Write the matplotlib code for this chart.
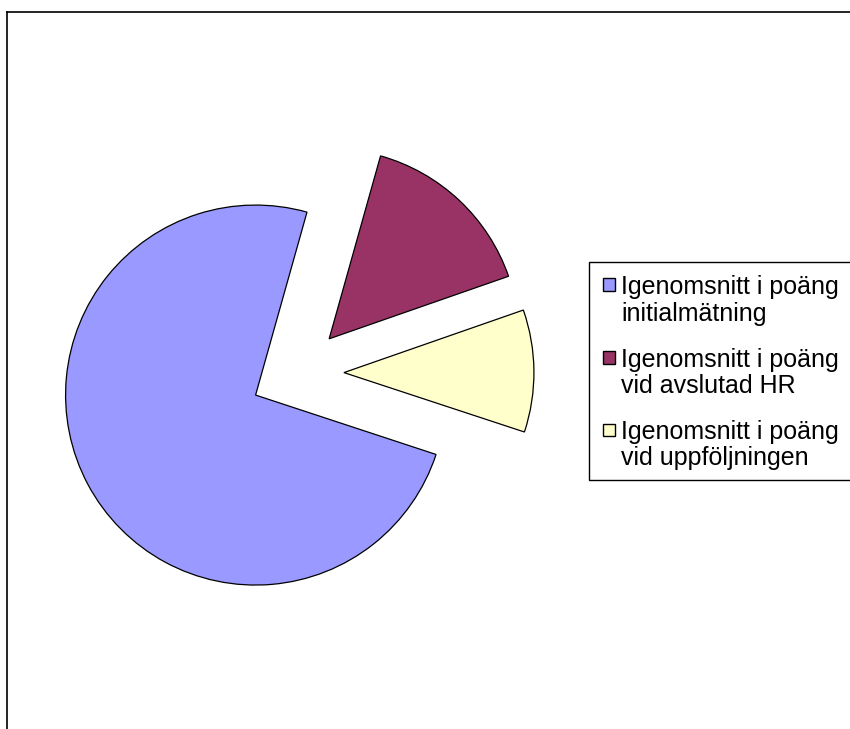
import matplotlib
matplotlib.use("Agg")
import matplotlib.pyplot as plt
from matplotlib.patches import Rectangle
from matplotlib.lines import Line2D

labels = [("Igenomsnitt i poäng", "initialmätning"),
          ("Igenomsnitt i poäng", "vid avslutad HR"),
          ("Igenomsnitt i poäng", "vid uppföljningen")]
values = [74.3, 15.3, 10.4]
colors = ["#9999FF", "#993366", "#FFFFCC"]

W, H = 850, 729
fig = plt.figure(figsize=(W / 100, H / 100), dpi=100)
plt.rcParams['font.family'] = ['Liberation Sans', 'DejaVu Sans']

def fx(x):
    return x / W

def fy(y):
    return 1 - y / H

# outer chart frame (left and top edges visible)
fig.add_artist(Line2D([fx(6.5), fx(6.5)], [fy(740), fy(12)], color="black", lw=1.2))
fig.add_artist(Line2D([fx(6.5), fx(860)], [fy(12), fy(12)], color="black", lw=1.2))

# pie: radius 1 maps to 190 px, centre at pixel (297, 373)
ax = fig.add_axes([0, 0, 1, 1])
r_px, cx, cy = 190, 297, 373
blue_span = 360 * values[0] / sum(values)
ax.pie(values, colors=colors, startangle=74.3 + blue_span, counterclock=False,
       explode=[0.247] * 3, radius=1,
       wedgeprops=dict(edgecolor="black", linewidth=0.9))
ax.set_xlim(-cx / r_px, (W - cx) / r_px)
ax.set_ylim(-(H - cy) / r_px, cy / r_px)
ax.axis("off")

# legend box drawn by hand
fig.add_artist(Rectangle((fx(588.5), fy(480)), fx(300), fy(261.5) - fy(480),
                         facecolor="white", edgecolor="black", lw=1.0,
                         transform=fig.transFigure))
entry_y = [294, 366.5, 439]
for (l1, l2), col, y in zip(labels, colors, entry_y):
    fig.add_artist(Rectangle((fx(602.5), fy(y - 3)), fx(12.5), fy(y - 15.5) - fy(y - 3),
                             facecolor=col, edgecolor="black", lw=1.0,
                             transform=fig.transFigure))
    fig.text(fx(621), fy(y), l1, fontsize=18, va="baseline")
    fig.text(fx(621), fy(y + 26.5), l2, fontsize=18, va="baseline")

fig.savefig("out.png", dpi=100)
